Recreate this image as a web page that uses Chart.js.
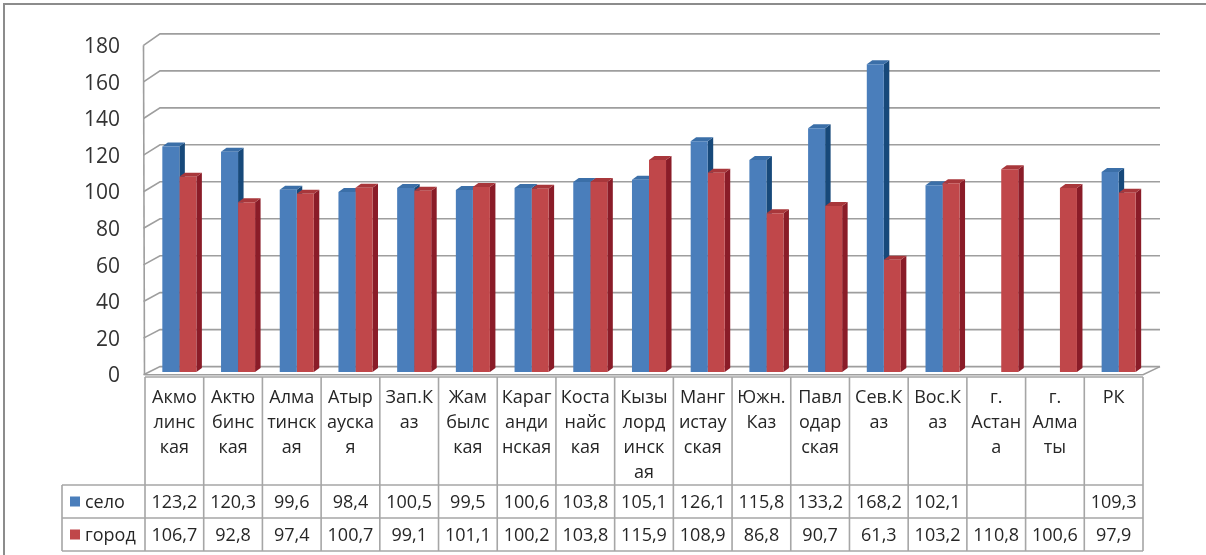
<!DOCTYPE html>
<html>
<head>
<meta charset="utf-8">
<script src="https://cdn.jsdelivr.net/npm/chart.js@4/dist/chart.umd.min.js"></script>
<style>
  html, body { margin: 0; padding: 0; background: #fff; }
  #wrap { width: 1206px; height: 555px; }
</style>
</head>
<body>
<div id="wrap"><canvas id="c" width="1206" height="555"></canvas></div>
<script>
// Region labels, wrapped the way they appear in the table header
const categories = [
  ['Акмо', 'линс', 'кая'],
  ['Актю', 'бинс', 'кая'],
  ['Алма', 'тинск', 'ая'],
  ['Атыр', 'ауска', 'я'],
  ['Зап.К', 'аз'],
  ['Жам', 'былс', 'кая'],
  ['Караг', 'анди', 'нская'],
  ['Коста', 'найс', 'кая'],
  ['Кызы', 'лорд', 'инск', 'ая'],
  ['Манг', 'истау', 'ская'],
  ['Южн.', 'Каз'],
  ['Павл', 'одар', 'ская'],
  ['Сев.К', 'аз'],
  ['Вос.К', 'аз'],
  ['г.', 'Астан', 'а'],
  ['г.', 'Алма', 'ты'],
  ['РК']
];
const seriesNames = ['село', 'город'];
const seloValues  = [123.2, 120.3, 99.6, 98.4, 100.5, 99.5, 100.6, 103.8, 105.1, 126.1, 115.8, 133.2, 168.2, 102.1, null, null, 109.3];
const gorodValues = [106.7, 92.8, 97.4, 100.7, 99.1, 101.1, 100.2, 103.8, 115.9, 108.9, 86.8, 90.7, 61.3, 103.2, 110.8, 100.6, 97.9];
const yMax = 180;
const yStep = 20;

const FONT = "'Open Sans', 'Liberation Sans', sans-serif";
const frontColors = ['#4A7EBB', '#C0474A'];
const sideColors  = ['#17497A', '#8A1C28'];
const topColors   = ['#3B6FA8', '#A8373B'];
const gridColor   = '#9E9E9E';
const tableColor  = '#A6A6A6';
const textColor   = '#262626';

const DEPTH_X = 5.5, DEPTH_Y = 4;       // bar side / top depth
const WALL_FRONT = 6.5, WALL_BACK = 10; // left wall offsets from plot edge

function fmt(v) { return v === null ? '' : v.toFixed(1).replace('.', ','); }

// Back wall, side wall and floor of the 3-D plot, plus side/top faces of each bar
const threeD = {
  id: 'threeD',
  beforeDatasetsDraw(chart) {
    const ctx = chart.ctx;
    const ys = chart.scales.y;
    const area = chart.chartArea;
    const frontX = area.left - WALL_FRONT;
    const backL = area.left + WALL_BACK;
    const backR = area.right + 12;
    const tableRight = area.right - 5;
    ctx.save();
    ctx.strokeStyle = gridColor;
    ctx.lineWidth = 1.6;
    for (let v = 0; v <= yMax; v += yStep) {
      const py = ys.getPixelForValue(v);
      const backY = py - 5.4 - 3.3 * v / yMax;
      const frontY = py + 2.7;
      ctx.beginPath();
      ctx.moveTo(frontX, frontY);
      ctx.lineTo(backL, backY);
      ctx.lineTo(backR, backY);
      ctx.stroke();
    }
    // left wall front edge
    ctx.beginPath();
    ctx.moveTo(frontX, ys.getPixelForValue(yMax) + 2.7);
    ctx.lineTo(frontX + 1, ys.getPixelForValue(0) + 2.7);
    ctx.stroke();
    // floor front edge and right edge
    const y0 = ys.getPixelForValue(0);
    ctx.beginPath();
    ctx.moveTo(frontX + 1, y0 + 2.7);
    ctx.lineTo(tableRight, y0 + 2.7);
    ctx.lineTo(backR, y0 - 5.4);
    ctx.stroke();
    ctx.restore();

    // bar sides and tops (fronts are drawn by Chart.js on top)
    const n = categories.length;
    for (let j = 0; j < n; j++) {
      chart.data.datasets.forEach((ds, di) => {
        const el = chart.getDatasetMeta(di).data[j];
        if (!el || ds.data[j] === null) return;
        const p = el.getProps(['x', 'y', 'base', 'width'], true);
        const l = p.x - p.width / 2, r = p.x + p.width / 2;
        ctx.save();
        ctx.fillStyle = sideColors[di];
        ctx.beginPath();
        ctx.moveTo(r, p.y);
        ctx.lineTo(r + DEPTH_X, p.y - DEPTH_Y);
        ctx.lineTo(r + DEPTH_X, p.base - DEPTH_Y);
        ctx.lineTo(r, p.base);
        ctx.closePath();
        ctx.fill();
        ctx.fillStyle = topColors[di];
        ctx.beginPath();
        ctx.moveTo(l, p.y);
        ctx.lineTo(l + DEPTH_X, p.y - DEPTH_Y);
        ctx.lineTo(r + DEPTH_X, p.y - DEPTH_Y);
        ctx.lineTo(r, p.y);
        ctx.closePath();
        ctx.fill();
        ctx.restore();
      });
    }
  }
};

// Data table under the plot, with the series legend keys and the outer frame
const dataTable = {
  id: 'dataTable',
  afterDraw(chart) {
    const ctx = chart.ctx;
    const xs = chart.scales.x;
    const area = chart.chartArea;
    const n = categories.length;
    const colW = (area.right - area.left) / n;
    const shift = 5;
    const tableLeft = area.left - shift;
    const tableRight = tableLeft + colW * n;
    const top = 377, headBottom = 485, row1Bottom = 518, row2Bottom = 551;
    const legendLeft = 62;

    ctx.save();
    ctx.strokeStyle = tableColor;
    ctx.lineWidth = 1.6;
    ctx.beginPath();
    ctx.moveTo(tableLeft, top); ctx.lineTo(tableRight, top);
    [headBottom, row1Bottom, row2Bottom].forEach(yy => {
      ctx.moveTo(legendLeft, yy); ctx.lineTo(tableRight, yy);
    });
    for (let j = 0; j <= n; j++) {
      const bx = tableLeft + colW * j;
      ctx.moveTo(bx, top); ctx.lineTo(bx, row2Bottom);
    }
    ctx.moveTo(legendLeft, headBottom); ctx.lineTo(legendLeft, row2Bottom);
    ctx.stroke();

    ctx.fillStyle = textColor;
    ctx.textAlign = 'center';
    ctx.textBaseline = 'middle';
    ctx.font = '18px ' + FONT;
    for (let j = 0; j < n; j++) {
      const cx = xs.getPixelForValue(j) - shift;
      categories[j].forEach((line, k) => ctx.fillText(line, cx, 398 + 25 * k));
      ctx.fillText(fmt(seloValues[j]), cx, (headBottom + row1Bottom) / 2 + 1);
      ctx.fillText(fmt(gorodValues[j]), cx, (row1Bottom + row2Bottom) / 2 + 1);
    }

    // legend keys
    const rows = [(headBottom + row1Bottom) / 2, (row1Bottom + row2Bottom) / 2];
    ctx.textAlign = 'left';
    seriesNames.forEach((name, i) => {
      ctx.fillStyle = frontColors[i];
      ctx.fillRect(70, rows[i] - 5, 10, 10);
      ctx.fillStyle = textColor;
      ctx.fillText(name, 85, rows[i] + 1);
    });

    // outer frame
    ctx.strokeStyle = '#8C8C8C';
    ctx.lineWidth = 2;
    ctx.beginPath();
    ctx.moveTo(4, 555); ctx.lineTo(4, 4); ctx.lineTo(1206, 4);
    ctx.stroke();
    ctx.restore();
  }
};

new Chart(document.getElementById('c'), {
  type: 'bar',
  data: {
    labels: categories,
    datasets: [
      { label: seriesNames[0], data: seloValues, backgroundColor: frontColors[0], borderWidth: 0 },
      { label: seriesNames[1], data: gorodValues, backgroundColor: frontColors[1], borderWidth: 0 }
    ]
  },
  options: {
    responsive: false,
    animation: false,
    devicePixelRatio: 1,
    events: [],
    layout: { padding: { left: 0, top: 36, right: 58, bottom: 183 } },
    datasets: { bar: { categoryPercentage: 0.58, barPercentage: 1.0 } },
    plugins: { legend: { display: false }, tooltip: { enabled: false } },
    scales: {
      x: { display: false, offset: true },
      y: {
        min: 0, max: yMax,
        grid: { display: false, drawTicks: false },
        border: { display: false },
        ticks: { stepSize: yStep, padding: 30, labelOffset: 4.5, color: '#333333', font: { family: FONT, size: 21 } },
        afterFit(s) { s.width = 150; }
      }
    }
  },
  plugins: [threeD, dataTable]
});
</script>
</body>
</html>
